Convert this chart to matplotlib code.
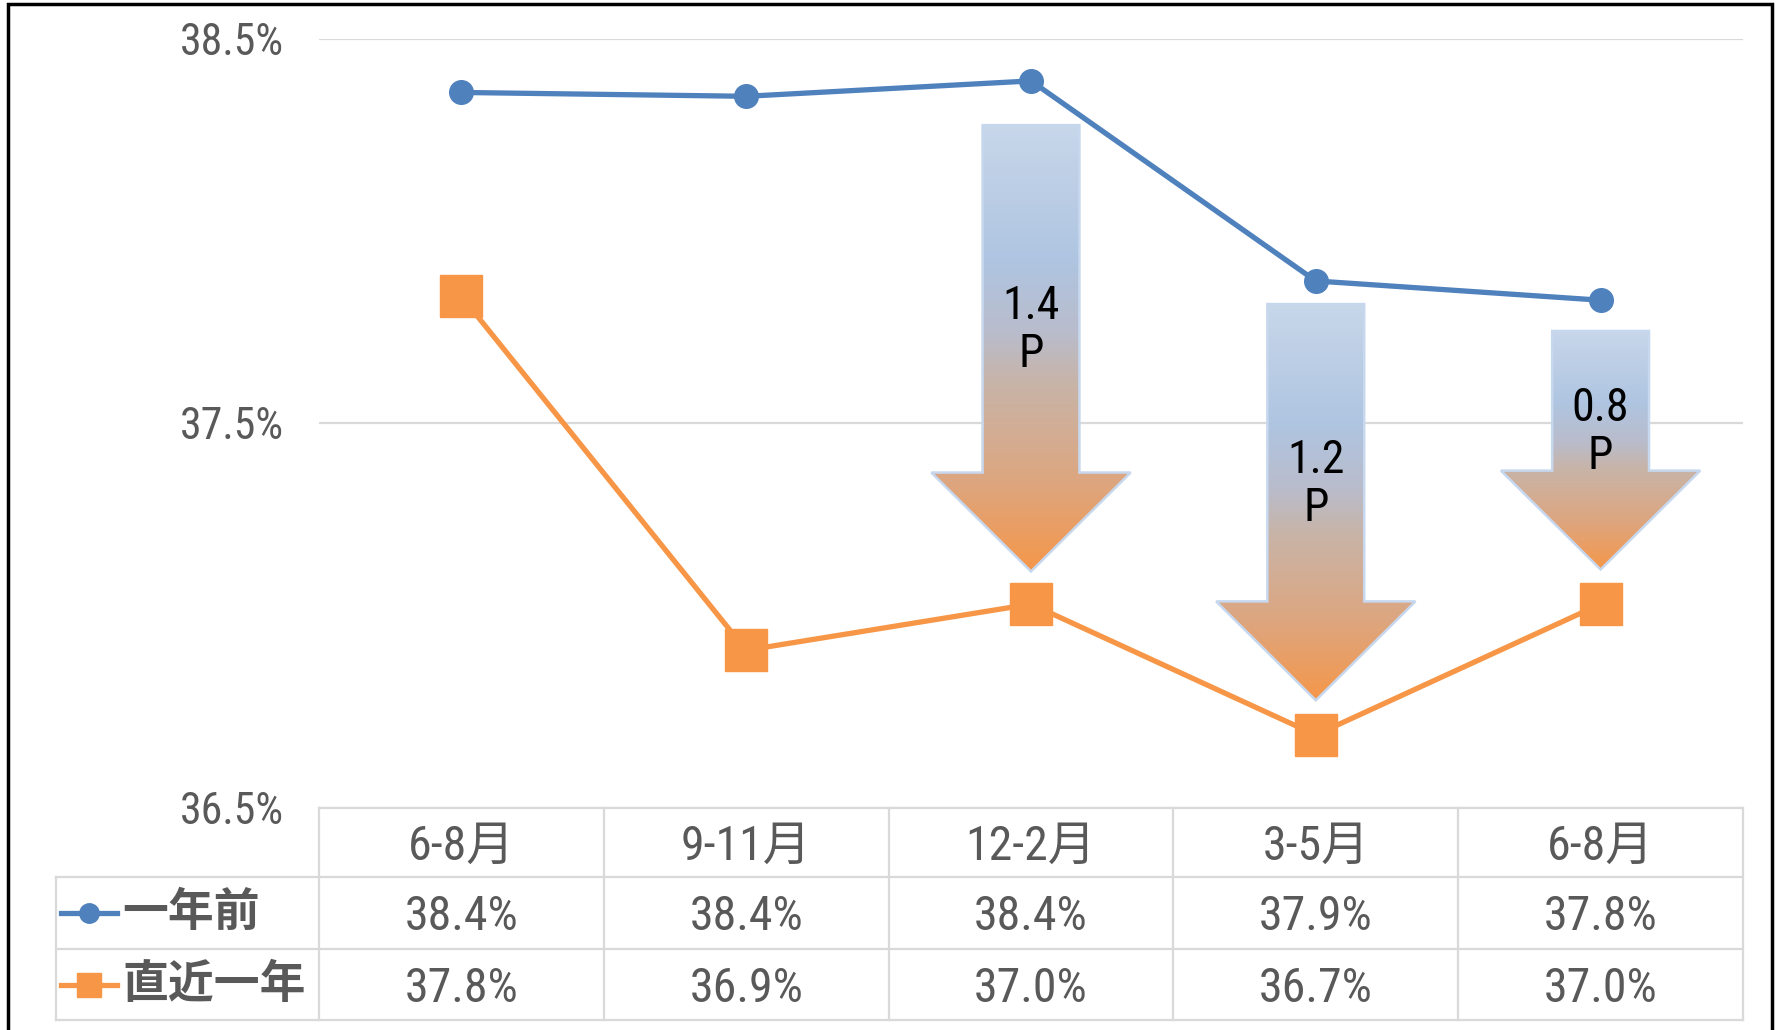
import matplotlib.pyplot as plt
import matplotlib.transforms as mtransforms
import numpy as np
from matplotlib import font_manager
from matplotlib.colors import LinearSegmentedColormap
from matplotlib.patches import Polygon, Rectangle

# data
periods = ['6-8月', '9-11月', '12-2月', '3-5月', '6-8月']
series_names = ['一年前', '直近一年']
year_ago = [38.36, 38.35, 38.39, 37.87, 37.82]
recent = [37.83, 36.91, 37.03, 36.69, 37.03]
arrow_idx = [2, 3, 4]
y_ticks = [36.5, 37.5, 38.5]

# pick a narrow font if one is installed
ttf = font_manager.fontManager.ttflist
def has(name, stretch=None):
    return any(f.name == name and (stretch is None or f.stretch == stretch) for f in ttf)

NARROW, STRETCH, FK = 'Liberation Sans', 'normal', 0.86
for name, st in [('Liberation Sans Narrow', None), ('Roboto Condensed', None),
                 ('Open Sans Condensed', None), ('Noto Sans Condensed', None),
                 ('Noto Sans', 'condensed'), ('DejaVu Sans Condensed', None),
                 ('DejaVu Sans', 'condensed'), ('Noto Sans', 'semi-condensed')]:
    if has(name, st):
        NARROW, STRETCH, FK = name, 'condensed', 1.0
        break
JP = 'Noto Sans CJK JP'
plt.rcParams['font.family'] = [NARROW, JP]
plt.rcParams['font.stretch'] = STRETCH

BLUE = '#4f81bd'
ORANGE = '#f79646'
GREY = '#595959'
GRID = '#d9d9d9'

W, H = 1779, 1030
fig = plt.figure(figsize=(W / 100, H / 100), dpi=100)
left, right, top, bottom = 319, 1743, 38.6, 808
ax = fig.add_axes([left / W, 1 - bottom / H, (right - left) / W, (bottom - top) / H])

x = np.arange(len(periods))

# lines
ax.plot(x, year_ago, color=BLUE, lw=3.8, marker='o', ms=17, zorder=5)
ax.plot(x, recent, color=ORANGE, lw=3.8, marker='s', ms=30, zorder=5)

# gradient arrows
cmap = LinearSegmentedColormap.from_list('arr', [
    (0.0, '#c8d7ea'), (0.3, '#afc5e1'), (0.47, '#b9bccb'),
    (0.58, '#c8b4a8'), (0.8, '#dda680'), (1.0, '#f5974a')])
top_gap = [0.115, 0.06, 0.08]
tip_gap = [0.085, 0.09, 0.09]
head_len, shaft_hw, head_hw = 0.257, 0.17, 0.35
grad = np.linspace(0, 1, 256).reshape(-1, 1)
for k, i in enumerate(arrow_idx):
    c = x[i]
    a_top = year_ago[i] - top_gap[k]
    a_tip = recent[i] + tip_gap[k]
    hs = a_tip + head_len
    verts = [(c - shaft_hw, a_top), (c + shaft_hw, a_top), (c + shaft_hw, hs),
             (c + head_hw, hs), (c, a_tip), (c - head_hw, hs), (c - shaft_hw, hs)]
    clip = Polygon(verts, closed=True, fc='none', ec='none', transform=ax.transData)
    ax.add_patch(clip)
    im = ax.imshow(grad, cmap=cmap, aspect='auto', origin='upper',
                   extent=[c - head_hw, c + head_hw, a_tip, a_top], zorder=3)
    im.set_clip_path(clip)
    ax.add_patch(Polygon(verts, closed=True, fill=False, ec='#c6d7ee', lw=1.8, zorder=3.5))
    diff = year_ago[i] - recent[i]
    ly = (a_top + hs) / 2 - 0.082
    ax.text(c, ly, f'{diff:.1f}\nP', ha='center', va='center', fontsize=33 * FK,
            color='black', linespacing=1.12, zorder=6)

# axes styling
ax.set_xlim(-0.5, 4.5)
ax.set_ylim(36.5, 38.5)
ax.set_xticks([])
ax.set_yticks(y_ticks)
ax.set_yticklabels([])
ax.tick_params(axis='y', length=0)
ax.yaxis.grid(True, color=GRID, lw=1.6)
ax.set_axisbelow(True)
for s in ax.spines.values():
    s.set_visible(False)

tick_tr = mtransforms.offset_copy(ax.transData, fig, x=-35, y=-16 * FK, units='dots')
for t in y_ticks:
    ax.text(-0.5, t, f'{t:.1f}%', ha='right', va='baseline', fontsize=31.5 * FK,
            color=GREY, transform=tick_tr, clip_on=False)

# data table under the chart
trans = mtransforms.blended_transform_factory(ax.transData, ax.transAxes)
txt_tr = mtransforms.offset_copy(trans, fig, y=-17 * FK, units='dots')


def ay(py):
    return (bottom - py) / (bottom - top)


cat_w = (right - left) / len(periods)
col0 = -0.5 + (56 - left) / cat_w
rows = [808, 877, 949, 1020]
lk = dict(color=GRID, lw=1.6, transform=trans, clip_on=False, zorder=1)
for b in np.arange(-0.5, len(periods), 1.0):
    ax.plot([b, b], [ay(rows[0]), ay(rows[3])], **lk)
ax.plot([col0, col0], [ay(rows[1]), ay(rows[3])], **lk)
ax.plot([-0.5, 4.5], [ay(rows[0])] * 2, **lk)
for r in rows[1:]:
    ax.plot([col0, 4.5], [ay(r)] * 2, **lk)

tk = dict(ha='center', va='baseline', fontsize=34.5 * FK, color=GREY,
          transform=txt_tr, clip_on=False)
hy = ay((rows[0] + rows[1]) / 2)
for i, p in enumerate(periods):
    ax.text(x[i], hy, p, **tk)
row_vals = [year_ago, recent]
for r, vals in enumerate(row_vals):
    ry = ay((rows[r + 1] + rows[r + 2]) / 2)
    for i, v in enumerate(vals):
        ax.text(x[i], ry, f'{v:.1f}%', **tk)

# legend keys in the table
key_l = -0.5 + (61 - left) / cat_w
key_r = -0.5 + (117 - left) / cat_w
key_c = (key_l + key_r) / 2
styles = [(BLUE, 'o', 14), (ORANGE, 's', 17)]
for r, (col, mk, ms) in enumerate(styles):
    ry = ay((rows[r + 1] + rows[r + 2]) / 2)
    ax.plot([key_l, key_r], [ry, ry], color=col, lw=3.8, transform=trans, clip_on=False)
    ax.plot([key_c], [ry], color=col, marker=mk, ms=ms, transform=trans, clip_on=False)
    ax.text(-0.5 + (122 - left) / cat_w, ry, series_names[r], ha='left', va='center',
            fontsize=33, color=GREY, fontweight='bold', family=JP,
            transform=trans, clip_on=False)

# outer frame
fig.patches.append(Rectangle((8 / W, -0.02), (1772 - 8) / W, 1 - 4 / H + 0.02,
                             transform=fig.transFigure, fill=False, ec='black', lw=2.5))

fig.savefig('out.png', dpi=100)
